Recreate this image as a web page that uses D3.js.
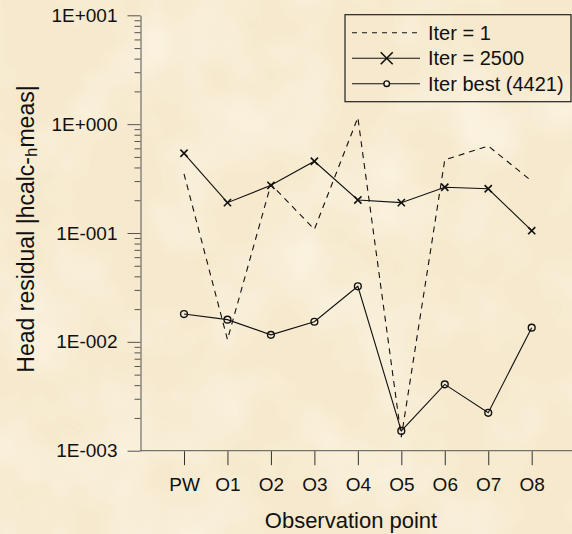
<!DOCTYPE html>
<html>
<head>
<meta charset="utf-8">
<script src="https://cdn.jsdelivr.net/npm/d3@7"></script>
<style>
  body { margin: 0; background: #f7ecd3; }
  svg { display: block; font-family: "Liberation Sans", Arial, sans-serif; }
</style>
</head>
<body>
<div id="container"></div>
<script>
const categories = ['PW', 'O1', 'O2', 'O3', 'O4', 'O5', 'O6', 'O7', 'O8']
const iter1 = [0.35, 0.0105, 0.28, 0.108, 1.15, 0.00133, 0.47, 0.63, 0.30]
const iter2500 = [0.54, 0.19, 0.274, 0.456, 0.201, 0.19, 0.263, 0.255, 0.105]
const iterBest = [0.018, 0.016, 0.0116, 0.0153, 0.0324, 0.00152, 0.00407, 0.00223, 0.0135]
const yMajors = [1e-3, 1e-2, 1e-1, 1, 10]
const yLabels = ['1E-003', '1E-002', '1E-001', '1E+000', '1E+001']

const w = 572
const h = 534
const plotLeft = 140.5
const plotTop = 15.3
const plotBottom = 450.7
const font = '"Liberation Sans", Arial, sans-serif'

const svg = d3.select('#container')
    .append('svg')
    .attr('width', w)
    .attr('height', h)
    .attr('font-family', font)

// parchment background
const defs = svg.append('defs')
const f = defs.append('filter').attr('id', 'paper').attr('x', 0).attr('y', 0).attr('width', '100%').attr('height', '100%')
f.append('feTurbulence').attr('type', 'fractalNoise').attr('baseFrequency', 0.012).attr('numOctaves', 3).attr('seed', 4)
f.append('feColorMatrix').attr('type', 'matrix')
    .attr('values', '0 0 0 0 1  0 0 0 0 0.98  0 0 0 0 0.9  0 0 0 1.4 -0.55')
svg.append('rect').attr('width', w).attr('height', h).attr('fill', '#f6e9cd')
svg.append('rect').attr('width', w).attr('height', h).attr('filter', 'url(#paper)').attr('opacity', 0.8)

const x = d3.scalePoint(categories, [184, 531.7])
const y = d3.scaleLog([1e-3, 10], [plotBottom, plotTop])

// minor ticks
const minors = []
yMajors.slice(0, -1).forEach(m => d3.range(2, 10).forEach(k => minors.push(m * k)))
svg.append('g')
    .attr('transform', `translate(${plotLeft},0)`)
    .call(d3.axisLeft(y).tickValues(minors).tickSize(6).tickFormat(''))
    .call(g => g.select('.domain').remove())
    .selectAll('line').attr('stroke', '#555')

const axisY = d3.axisLeft(y)
    .tickValues(yMajors)
    .tickSize(13)
    .tickPadding(10)
    .tickSizeOuter(0)
    .tickFormat((d, i) => yLabels[i])

svg.append('g')
    .attr('transform', `translate(${plotLeft},0)`)
    .call(axisY)
    .attr('font-family', font)
    .attr('font-size', 19)
    .call(g => g.select('.domain').attr('stroke', '#555'))
    .call(g => g.selectAll('line').attr('stroke', '#555'))
    .call(g => g.selectAll('text').attr('fill', '#111'))

// x axis
svg.append('line')
    .attr('x1', plotLeft).attr('x2', w)
    .attr('y1', plotBottom).attr('y2', plotBottom)
    .attr('stroke', '#555')

const axisX = d3.axisBottom(x).tickSize(14).tickPadding(12).tickSizeOuter(0)
svg.append('g')
    .attr('transform', `translate(0,${plotBottom + 0.5})`)
    .call(axisX)
    .attr('font-family', font)
    .attr('font-size', 19)
    .call(g => g.select('.domain').remove())
    .call(g => g.selectAll('line').attr('stroke', '#333'))
    .call(g => g.selectAll('text').attr('fill', '#111'))

svg.append('text')
    .attr('x', 351).attr('y', 528)
    .attr('text-anchor', 'middle')
    .attr('font-size', 22)
    .attr('fill', '#111')
    .text('Observation point')

const yt = svg.append('text')
    .attr('transform', `translate(34,${(plotTop + plotBottom) / 2 - 4}) rotate(-90)`)
    .attr('text-anchor', 'middle')
    .attr('font-size', 23)
    .attr('fill', '#111')
yt.append('tspan').text('Head residual |hcalc-')
yt.append('tspan').attr('font-size', 17).attr('dy', 3).text('h')
yt.append('tspan').attr('dy', -3).text('meas|')

// series
const line = d3.line().x((d, i) => x(categories[i])).y(d => y(d))

svg.append('path').datum(iter1)
    .attr('d', line).attr('fill', 'none')
    .attr('stroke', '#111').attr('stroke-width', 1.1).attr('stroke-dasharray', '6,5')

svg.append('path').datum(iter2500)
    .attr('d', line).attr('fill', 'none')
    .attr('stroke', '#111').attr('stroke-width', 1.1)

svg.append('path').datum(iterBest)
    .attr('d', line).attr('fill', 'none')
    .attr('stroke', '#111').attr('stroke-width', 1.1)

const cross = (sel, s) => sel.append('path')
    .attr('d', `M${-s},${-s}L${s},${s}M${-s},${s}L${s},${-s}`)
    .attr('stroke', '#111').attr('stroke-width', 1.6)

svg.selectAll('.xm')
    .data(iter2500)
    .enter()
    .append('g')
    .attr('class', 'xm')
    .attr('transform', (d, i) => `translate(${x(categories[i])},${y(d)})`)
    .call(cross, 3.6)

svg.selectAll('.cm')
    .data(iterBest)
    .enter()
    .append('circle')
    .attr('class', 'cm')
    .attr('cx', (d, i) => x(categories[i]))
    .attr('cy', d => y(d))
    .attr('r', 3.4)
    .attr('fill', 'none')
    .attr('stroke', '#111').attr('stroke-width', 1.4)

// legend
const legend = svg.append('g')
legend.append('rect')
    .attr('x', 345).attr('y', 14.7)
    .attr('width', 226).attr('height', 87)
    .attr('fill', 'none').attr('stroke', '#222').attr('stroke-width', 1.2)

const rows = [
    { label: 'Iter = 1', dash: '5,5', mark: null },
    { label: 'Iter = 2500', dash: null, mark: 'x' },
    { label: 'Iter best (4421)', dash: null, mark: 'o' }
]
rows.forEach((r, i) => {
    const ly = 32.7 + i * 25.5
    legend.append('line')
        .attr('x1', 352).attr('x2', 420).attr('y1', ly).attr('y2', ly)
        .attr('stroke', '#111').attr('stroke-width', 1.1)
        .attr('stroke-dasharray', r.dash)
    if (r.mark === 'x') {
        legend.append('g').attr('transform', `translate(386.7,${ly})`).call(cross, 6)
    }
    if (r.mark === 'o') {
        legend.append('circle').attr('cx', 386.7).attr('cy', ly).attr('r', 2.8)
            .attr('fill', '#fbf3df').attr('stroke', '#111').attr('stroke-width', 1.4)
    }
    legend.append('text')
        .attr('x', 428).attr('y', ly).attr('dy', '0.36em')
        .attr('font-size', 20).attr('fill', '#111')
        .text(r.label)
})
</script>
</body>
</html>
